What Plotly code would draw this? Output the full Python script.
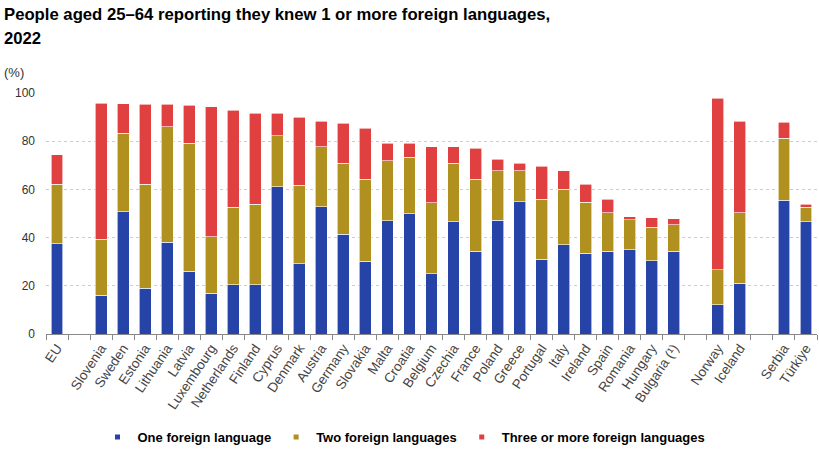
import plotly.graph_objects as go

categories = ["EU", " ", "Slovenia", "Sweden", "Estonia", "Lithuania", "Latvia", "Luxembourg",
              "Netherlands", "Finland", "Cyprus", "Denmark", "Austria", "Germany", "Slovakia",
              "Malta", "Croatia", "Belgium", "Czechia", "France", "Poland", "Greece", "Portugal",
              "Italy", "Ireland", "Spain", "Romania", "Hungary", "Bulgaria (¹)", "  ",
              "Norway", "Iceland", "   ", "Serbia", "Türkiye"]

one_lang = [37.5, None, 16.0, 50.7, 19.0, 38.0, 26.0, 16.9, 20.5, 20.5, 61.1, 29.2, 52.8, 41.4,
            30.1, 46.9, 50.0, 25.0, 46.5, 34.3, 47.2, 54.8, 31.0, 37.1, 33.6, 34.3, 35.0, 30.5,
            34.3, None, 12.2, 21.1, None, 55.5, 46.5]
two_lang = [24.7, None, 23.4, 32.6, 43.2, 48.1, 53.2, 23.4, 32.0, 33.4, 21.2, 32.6, 25.0, 29.4,
            34.2, 24.9, 23.3, 29.4, 24.3, 29.9, 20.6, 13.0, 25.0, 23.0, 21.0, 16.1, 12.5, 13.9,
            11.1, None, 14.5, 29.3, None, 25.8, 6.0]
three_lang = [12.1, None, 56.4, 12.2, 33.2, 9.3, 15.7, 53.9, 40.3, 37.8, 9.4, 28.2, 10.4, 16.7,
              21.1, 7.4, 5.9, 23.4, 7.0, 12.9, 4.7, 3.0, 13.7, 7.7, 7.5, 5.6, 1.1, 3.8,
              2.4, None, 71.2, 37.8, None, 6.6, 1.4]

series_names = ["One foreign language", "Two foreign languages", "Three or more foreign languages"]
series_colors = ["#2644A7", "#B09120", "#E04040"]
y_ticks = [0, 20, 40, 60, 80, 100]

FONT = "Arial, Liberation Sans, sans-serif"

fig = go.Figure()
for name, vals, col in zip(series_names, [one_lang, two_lang, three_lang], series_colors):
    fig.add_trace(go.Bar(x=categories, y=vals, name=name, marker_color=col,
                         marker_line_color="white", marker_line_width=0.6,
                         legendgroup=name, showlegend=False))
    fig.add_trace(go.Scatter(x=[None], y=[None], mode="markers", name=name, legendgroup=name,
                             marker=dict(symbol="square", size=5, color=col), showlegend=True))

fig.update_layout(
    width=819, height=450,
    margin=dict(l=46, r=2, t=93, b=116),
    barmode="stack", bargap=0.46,
    plot_bgcolor="white", paper_bgcolor="white",
    font=dict(family=FONT, size=12, color="#333333"),
    title=dict(text="<b>People aged 25–64 reporting they knew 1 or more foreign languages,</b>",
               x=4 / 819, xanchor="left", xref="container",
               y=1 - 14.5 / 450, yanchor="middle", yref="container",
               font=dict(family=FONT, size=16.7, color="#000000")),
    showlegend=True,
    legend=dict(orientation="h", x=404 / 819, xanchor="center", xref="container",
                y=1 - 437 / 450, yanchor="middle", yref="container",
                font=dict(family=FONT, size=13, color="#000000", weight="bold"),
                itemwidth=30, traceorder="normal"),
    xaxis=dict(type="category", categoryorder="array", categoryarray=categories,
               tickangle=-56, tickson="boundaries", ticks="outside", ticklen=5,
               tickcolor="#888888", showline=True, linecolor="#888888", linewidth=1,
               showgrid=False, tickfont=dict(family=FONT, size=13.5, color="#444444"),
               range=[-0.5, len(categories) - 0.5]),
    yaxis=dict(range=[0, 100], tickvals=y_ticks, showgrid=True, gridcolor="#cccccc",
               griddash="dot", gridwidth=1, zeroline=False, showline=False, ticks="",
               ticklabelstandoff=10, tickfont=dict(family=FONT, size=12, color="#333333")),
)

fig.add_annotation(text="<b>2022</b>", xref="paper", yref="paper", x=(2 - 46) / 771,
                   y=(334 - 38.5) / 241, xanchor="left", yanchor="middle", showarrow=False,
                   font=dict(family=FONT, size=16.7, color="#000000"))
fig.add_annotation(text="(%)", xref="paper", yref="paper", x=(2 - 46) / 771,
                   y=(334 - 72) / 241, xanchor="left", yanchor="middle", showarrow=False,
                   font=dict(family=FONT, size=13, color="#333333"))

fig.write_html("out.html")
